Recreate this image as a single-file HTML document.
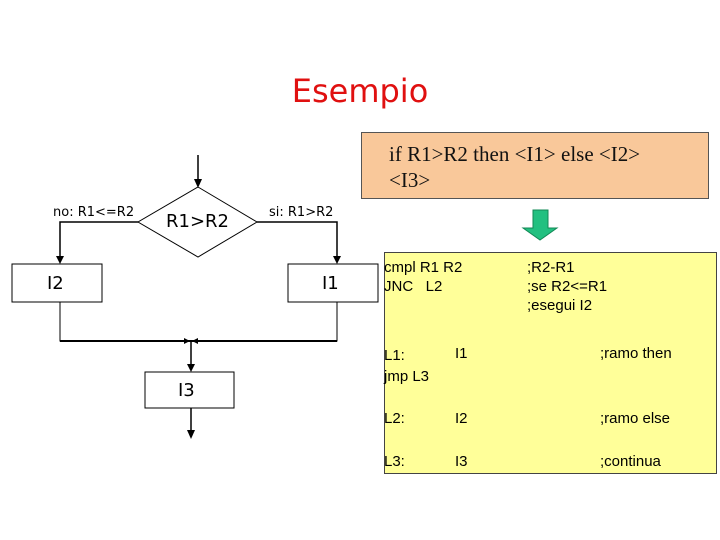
<!DOCTYPE html>
<html><head><style>
body{margin:0;width:720px;height:540px;background:#fff;position:relative;overflow:hidden;font-family:"DejaVu Sans","Liberation Sans",sans-serif}
.a{position:absolute;white-space:nowrap}
</style></head><body>
<div class="a" style="left:0;width:720px;top:72px;text-align:center;color:#e01010;font-size:32px;font-family:'DejaVu Sans',sans-serif">Esempio</div>
<div class="a" style="left:361px;top:132px;width:346px;height:65px;background:#f9c89a;border:1px solid #555"></div>
<div class="a" style="left:389px;top:141px;font-family:'Liberation Serif',serif;font-size:21px;line-height:26px;color:#111">if R1&gt;R2 then &lt;I1&gt; else &lt;I2&gt;<br>&lt;I3&gt;</div>
<div class="a" style="left:384px;top:252px;width:331px;height:220px;background:#ffff99;border:1px solid #444"></div>
<svg class="a" style="left:0;top:0" width="720" height="540">
<polygon points="533,210 548,210 548,228 557,228 540,240 523,228 533,228" fill="#22c080" stroke="#118855"/>
<g stroke="#000" stroke-width="1.5" fill="none">
<line x1="198" y1="155" x2="198" y2="185"/>
<polygon points="198,187 257,222 198,257 138,222" stroke-width="1" fill="#fff"/>
<polyline points="138,222 60,222 60,260"/>
<polyline points="257,222 337,222 337,260"/>
<rect x="12" y="264" width="90" height="38" stroke-width="1"/>
<rect x="288" y="264" width="90" height="38" stroke-width="1"/>
<polyline points="60,302 60,341 337,341 337,302" stroke-width="1"/>
<line x1="60" y1="341" x2="337" y2="341" stroke-width="2"/>
<line x1="191" y1="341" x2="191" y2="368"/>
<rect x="145" y="372" width="89" height="36" stroke-width="1"/>
<line x1="191" y1="408" x2="191" y2="434"/>
</g>
<g fill="#000">
<polygon points="194,179 202,179 198,188"/>
<polygon points="56,256 64,256 60,264"/>
<polygon points="333,256 341,256 337,264"/>
<polygon points="187,364 195,364 191,372"/>
<polygon points="187,430 195,430 191,439"/>
<polygon points="184,338 184,344 190,341"/><polygon points="198,338 198,344 192,341"/>
</g>
</svg>
<div class="a" style="left:53px;top:205px;font-size:13px">no: R1&lt;=R2</div>
<div class="a" style="left:269px;top:205px;font-size:13px">si: R1&gt;R2</div>
<div class="a" style="left:166px;top:211px;font-size:18px">R1&gt;R2</div>
<div class="a" style="left:47px;top:273px;font-size:18px">I2</div>
<div class="a" style="left:322px;top:273px;font-size:18px">I1</div>
<div class="a" style="left:178px;top:380px;font-size:18px">I3</div>
<div class="a" style="left:384px;top:258px;font-size:15px;line-height:19px;font-family:'Liberation Sans',sans-serif">cmpl R1 R2<br>JNC &nbsp; L2</div>
<div class="a" style="left:527px;top:258px;font-size:15px;line-height:19px;font-family:'Liberation Sans',sans-serif">;R2-R1<br>;se R2&lt;=R1<br>;esegui I2</div>
<div class="a" style="left:384px;top:345px;font-size:15px;line-height:21px;font-family:'Liberation Sans',sans-serif">L1:<br>jmp L3</div>
<div class="a" style="left:455px;top:345px;font-size:15px;font-family:'Liberation Sans',sans-serif">I1</div>
<div class="a" style="left:600px;top:345px;font-size:15px;font-family:'Liberation Sans',sans-serif">;ramo then</div>
<div class="a" style="left:384px;top:410px;font-size:15px;font-family:'Liberation Sans',sans-serif">L2:</div>
<div class="a" style="left:455px;top:410px;font-size:15px;font-family:'Liberation Sans',sans-serif">I2</div>
<div class="a" style="left:600px;top:410px;font-size:15px;font-family:'Liberation Sans',sans-serif">;ramo else</div>
<div class="a" style="left:384px;top:453px;font-size:15px;font-family:'Liberation Sans',sans-serif">L3:</div>
<div class="a" style="left:455px;top:453px;font-size:15px;font-family:'Liberation Sans',sans-serif">I3</div>
<div class="a" style="left:600px;top:453px;font-size:15px;font-family:'Liberation Sans',sans-serif">;continua</div>
</body></html>
